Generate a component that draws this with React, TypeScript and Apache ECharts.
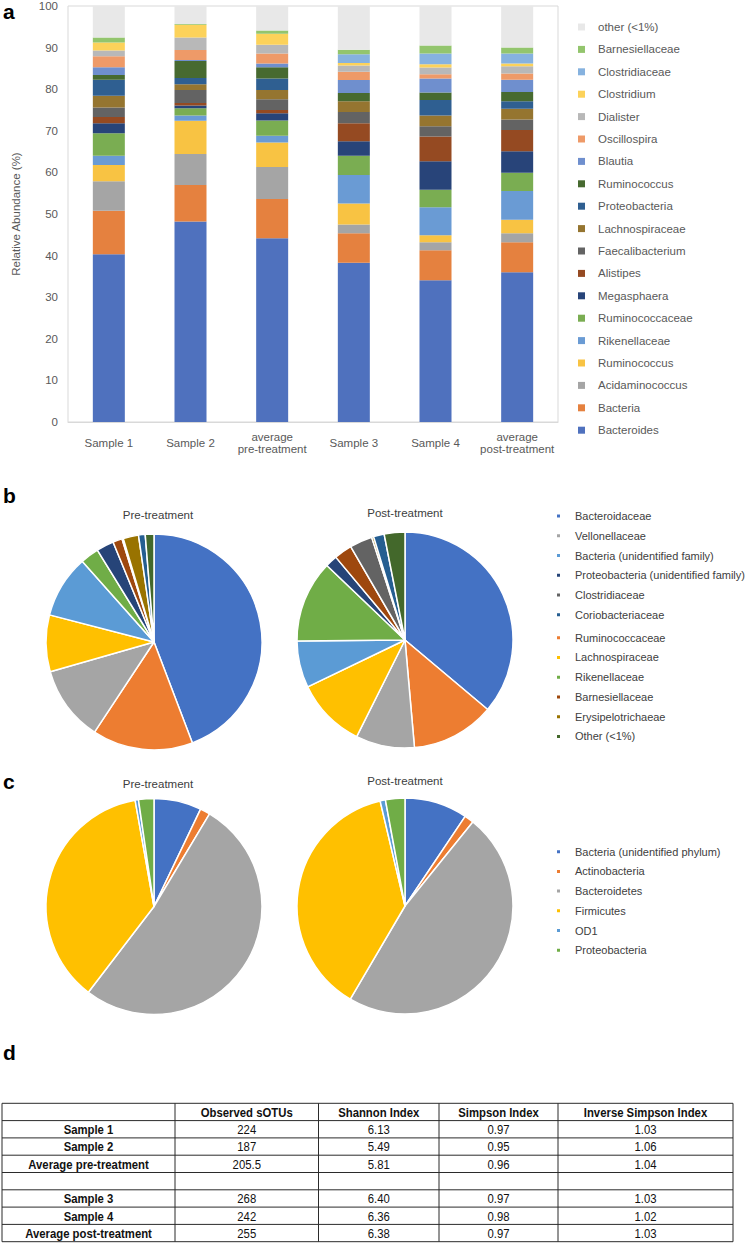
import React, { useEffect, useRef } from 'react';
import * as echarts from 'echarts';

// ---------- Panel a: stacked relative abundance ----------
const categories = ['Sample 1', 'Sample 2', 'average\npre-treatment', 'Sample 3', 'Sample 4', 'average\npost-treatment'];
// bottom -> top stacking order
const taxa = ['Bacteroides', 'Bacteria', 'Acidaminococcus', 'Ruminococcus', 'Rikenellaceae', 'Ruminococcaceae', 'Megasphaera', 'Alistipes', 'Faecalibacterium', 'Lachnospiraceae', 'Proteobacteria', 'Ruminococcus', 'Blautia', 'Oscillospira', 'Dialister', 'Clostridium', 'Clostridiaceae', 'Barnesiellaceae', 'other (<1%)'];
const taxaColors = ['#4F71BE', '#E5813F', '#A5A5A5', '#F8C343', '#6A9BD4', '#7AAD52', '#284479', '#954A22', '#636363', '#957530', '#2F5F91', '#476A30', '#6F8FCE', '#EE9A68', '#B8B8B8', '#FCD25A', '#86B2DF', '#93C56D', '#E8E8E8'];
const sample1 = [40.3, 10.5, 7.1, 3.9, 2.2, 5.4, 2.4, 1.5, 2.3, 2.8, 3.9, 1.1, 1.9, 2.6, 1.4, 1.9, 0, 1.2, 7.6];
const sample2 = [48.2, 8.8, 7.4, 8.0, 1.3, 1.7, 0.7, 0.6, 3.1, 1.4, 1.5, 4.1, 0.2, 2.4, 3.0, 3.1, 0, 0.2, 4.3];
const avgPre = [44.2, 9.4, 7.7, 5.9, 1.6, 3.7, 1.7, 0.8, 2.6, 2.2, 2.8, 2.7, 0.9, 2.4, 2.1, 2.6, 0, 0.8, 5.9];
const sample3 = [38.3, 7.1, 2.1, 5.0, 6.9, 4.6, 3.5, 4.3, 2.7, 2.6, 0, 2.0, 3.1, 2.0, 1.5, 0.6, 2.1, 1.1, 10.5];
const sample4 = [34.1, 7.2, 1.9, 1.7, 6.7, 4.2, 6.9, 5.9, 2.5, 2.6, 3.7, 1.8, 3.4, 1.0, 1.6, 0.8, 2.6, 1.9, 9.5];
const avgPost = [36.0, 7.2, 2.2, 3.2, 6.9, 4.4, 5.2, 5.1, 2.5, 2.6, 1.8, 2.2, 3.0, 1.5, 1.7, 0.7, 2.4, 1.4, 10.0];
const samples = [sample1, sample2, avgPre, sample3, sample4, avgPost];

// ---------- Panel b: family-level pies ----------
const familyNames = ['Bacteroidaceae', 'Ruminococcaceae', 'Vellonellaceae', 'Lachnospiraceae', 'Bacteria (unidentified family)', 'Rikenellaceae', 'Proteobacteria (unidentified family)', 'Barnesiellaceae', 'Clostridiaceae', 'Erysipelotrichaeae', 'Coriobacteriaceae', 'Other (<1%)'];
const familyColors = ['#4472C4', '#ED7D31', '#A5A5A5', '#FFC000', '#5B9BD5', '#70AD47', '#264478', '#9E480E', '#636363', '#997300', '#255E91', '#43682B'];
const familyPre = [44.3, 15.1, 11.3, 8.5, 9.4, 2.8, 2.6, 1.4, 0.2, 2.3, 1.0, 1.3];
const familyPost = [36.2, 12.5, 8.8, 10.5, 7.0, 12.3, 1.8, 2.7, 3.4, 0.3, 1.6, 3.1];
const familyLegend1 = ['Bacteroidaceae', 'Vellonellaceae', 'Bacteria (unidentified family)', 'Proteobacteria (unidentified family)', 'Clostridiaceae', 'Coriobacteriaceae'];
const familyLegend2 = ['Ruminococcaceae', 'Lachnospiraceae', 'Rikenellaceae', 'Barnesiellaceae', 'Erysipelotrichaeae', 'Other (<1%)'];

// ---------- Panel c: phylum-level pies ----------
const phylumNames = ['Bacteria (unidentified phylum)', 'Actinobacteria', 'Bacteroidetes', 'Firmicutes', 'OD1', 'Proteobacteria'];
const phylumColors = ['#4472C4', '#ED7D31', '#A5A5A5', '#FFC000', '#5B9BD5', '#70AD47'];
const phylumPre = [7.1, 1.5, 51.8, 36.8, 0.5, 2.3];
const phylumPost = [9.4, 1.4, 47.6, 37.8, 0.8, 2.9];

// ---------- Panel d: diversity table ----------
const tableHeader = ['', 'Observed sOTUs', 'Shannon Index', 'Simpson Index', 'Inverse Simpson Index'];
const rowLabels = ['Sample 1', 'Sample 2', 'Average pre-treatment', '', 'Sample 3', 'Sample 4', 'Average post-treatment'];
const observedSOTUs = ['224', '187', '205.5', '', '268', '242', '255'];
const shannonIndex = ['6.13', '5.49', '5.81', '', '6.40', '6.36', '6.38'];
const simpsonIndex = ['0.97', '0.95', '0.96', '', '0.97', '0.98', '0.97'];
const inverseSimpson = ['1.03', '1.06', '1.04', '', '1.03', '1.02', '1.03'];

const FONT = "'Liberation Sans', Arial, Helvetica, sans-serif";
const stripKey = (n: string) => n.slice(n.indexOf(':') + 1);

function buildOption() {
  const barSeries = taxa.map((t, i) => ({
    type: 'bar',
    name: `a${i}:${t}`,
    stack: 'total',
    barWidth: 32,
    itemStyle: { color: taxaColors[i] },
    emphasis: { disabled: true },
    data: samples.map((s) => s[i]),
  }));

  const pie = (key: string, names: string[], colors: string[], values: number[], center: number[]) => ({
    type: 'pie',
    center,
    radius: 108,
    startAngle: 90,
    clockwise: true,
    label: { show: false },
    labelLine: { show: false },
    emphasis: { disabled: true },
    itemStyle: { borderColor: '#ffffff', borderWidth: 1.5 },
    data: names.map((n, i) => ({ name: `${key}:${n}`, value: values[i], itemStyle: { color: colors[i] } })),
  });

  const legendBase = {
    orient: 'vertical',
    icon: 'rect',
    selectedMode: false,
    padding: 0,
    formatter: stripKey,
  };

  // table graphics
  const colEdges = [2, 175, 318.5, 439, 558, 733];
  const rowTop = 1103.3;
  const rowH = 17.3;
  const nRows = rowLabels.length + 1;
  const tableEls: any[] = [];
  for (let r = 0; r <= nRows; r++) {
    const y = rowTop + r * rowH;
    tableEls.push({ type: 'line', shape: { x1: colEdges[0], y1: y, x2: colEdges[colEdges.length - 1], y2: y }, style: { stroke: '#2b2b2b', lineWidth: 1 } });
  }
  colEdges.forEach((x) => {
    tableEls.push({ type: 'line', shape: { x1: x, y1: rowTop, x2: x, y2: rowTop + nRows * rowH }, style: { stroke: '#2b2b2b', lineWidth: 1 } });
  });
  const cellText = (text: string, c: number, r: number, bold: boolean) => ({
    type: 'text',
    x: (colEdges[c] + colEdges[c + 1]) / 2,
    y: rowTop + r * rowH + rowH / 2 + 0.5,
    scaleX: 0.84,
    style: { text, fontFamily: FONT, fontSize: 13.5, fontWeight: bold ? 'bold' : 'normal', fill: '#111111', align: 'center', verticalAlign: 'middle' },
  });
  tableHeader.forEach((h, c) => { if (h) tableEls.push(cellText(h, c, 0, true)); });
  const cols = [rowLabels, observedSOTUs, shannonIndex, simpsonIndex, inverseSimpson];
  cols.forEach((col, c) => col.forEach((v, r) => { if (v) tableEls.push(cellText(v, c, r + 1, c === 0)); }));

  const panelLabel = (t: string, y: number) => ({
    type: 'text', x: 3, y, style: { text: t, fontFamily: FONT, fontSize: 21, fontWeight: 'bold', fill: '#000', align: 'left', verticalAlign: 'middle' },
  });
  const pieTitle = (t: string, x: number, y: number) => ({
    type: 'text', x, y, style: { text: t, fontFamily: FONT, fontSize: 11.5, fill: '#404040', align: 'center', verticalAlign: 'middle' },
  });

  const pieLegendText = { color: '#404040', fontSize: 11, lineHeight: 14, padding: [0, 0, 0, 9] };

  return {
    animation: false,
    backgroundColor: '#ffffff',
    textStyle: { fontFamily: FONT },
    grid: { left: 68, top: 3, width: 490, height: 419, show: true, borderColor: '#D9D9D9', borderWidth: 1, backgroundColor: 'transparent' },
    xAxis: {
      type: 'category',
      data: categories,
      axisLine: { lineStyle: { color: '#D9D9D9' } },
      axisTick: { show: false },
      axisLabel: { interval: 0, color: '#595959', fontSize: 11.5, margin: 21, verticalAlign: 'middle', lineHeight: 11.6 },
    },
    yAxis: {
      type: 'value',
      min: 0,
      max: 100,
      interval: 10,
      name: 'Relative Abundance (%)',
      nameLocation: 'middle',
      nameRotate: 90,
      nameGap: 46,
      nameTextStyle: { color: '#595959', fontSize: 11.5 },
      axisLine: { show: false },
      axisTick: { show: false },
      splitLine: { show: false },
      axisLabel: { color: '#595959', fontSize: 11.5, margin: 10 },
    },
    legend: [
      {
        ...legendBase,
        left: 578,
        top: 20,
        itemWidth: 7,
        itemHeight: 7,
        itemGap: 8.4,
        data: taxa.map((t, i) => `a${i}:${t}`).reverse(),
        textStyle: { color: '#595959', fontSize: 11.5, lineHeight: 14, padding: [0, 0, 0, 8] },
      },
      {
        ...legendBase,
        left: 555,
        top: 509,
        itemWidth: 5,
        itemHeight: 5,
        itemGap: 5.75,
        data: familyLegend1.map((n) => `b:${n}`),
        textStyle: pieLegendText,
      },
      {
        ...legendBase,
        left: 555,
        top: 630.7,
        itemWidth: 5,
        itemHeight: 5,
        itemGap: 5.75,
        data: familyLegend2.map((n) => `b:${n}`),
        textStyle: pieLegendText,
      },
      {
        ...legendBase,
        left: 555,
        top: 844.7,
        itemWidth: 5,
        itemHeight: 5,
        itemGap: 5.7,
        data: phylumNames.map((n) => `c:${n}`),
        textStyle: pieLegendText,
      },
    ],
    series: [
      ...barSeries,
      pie('b', familyNames, familyColors, familyPre, [154, 642]),
      pie('b', familyNames, familyColors, familyPost, [405, 640]),
      pie('c', phylumNames, phylumColors, phylumPre, [154, 906.5]),
      pie('c', phylumNames, phylumColors, phylumPost, [405, 906]),
    ],
    graphic: [
      panelLabel('a', 11),
      panelLabel('b', 495),
      panelLabel('c', 781),
      panelLabel('d', 1052),
      pieTitle('Pre-treatment', 158, 515),
      pieTitle('Post-treatment', 405, 513),
      pieTitle('Pre-treatment', 158, 784),
      pieTitle('Post-treatment', 405, 781),
      ...tableEls,
    ],
  };
}

export default function App() {
  const ref = useRef<HTMLDivElement>(null);
  useEffect(() => {
    if (!ref.current) return;
    const chart = echarts.init(ref.current, undefined, { renderer: 'svg' });
    chart.setOption(buildOption() as any);
    return () => chart.dispose();
  }, []);
  return (
    <div style={{ position: 'absolute', left: 0, top: 0, width: 750, height: 1243, background: '#fff' }}>
      <div ref={ref} style={{ width: 750, height: 1243 }} />
    </div>
  );
}
